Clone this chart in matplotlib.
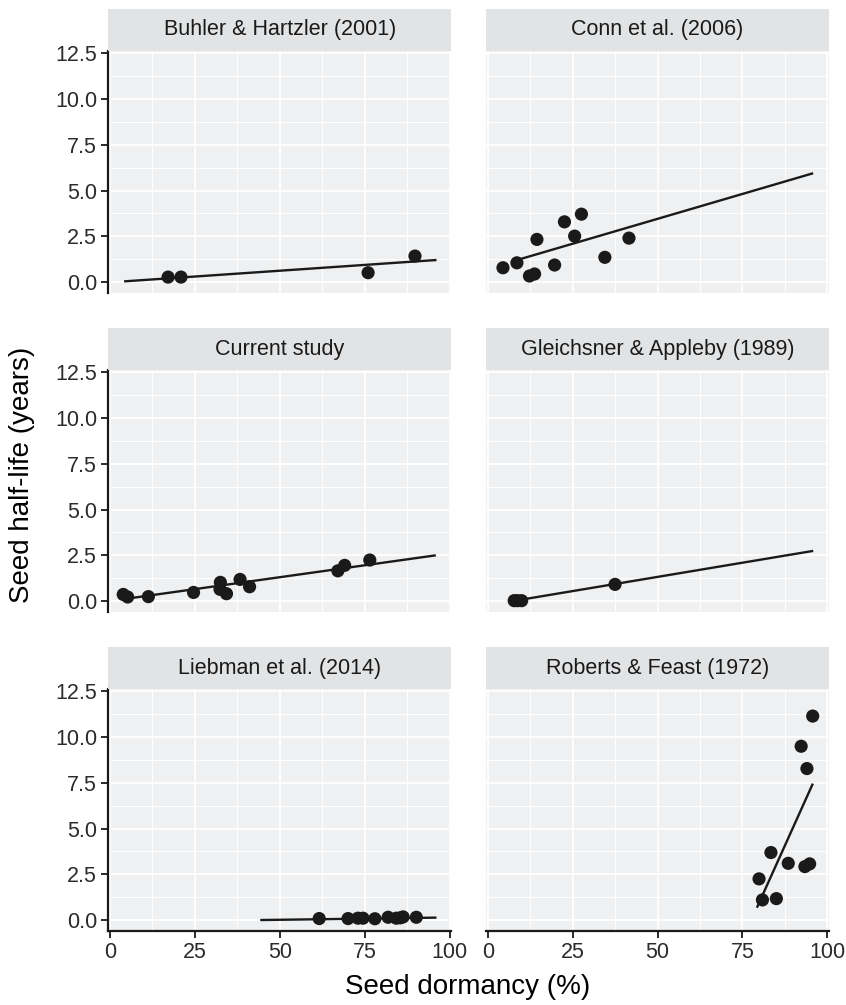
import numpy as np
import matplotlib.pyplot as plt
from matplotlib.ticker import MultipleLocator

plt.rcParams["font.family"] = ["Liberation Sans", "DejaVu Sans"]

studies = [
    "Buhler & Hartzler (2001)",
    "Conn et al. (2006)",
    "Current study",
    "Gleichsner & Appleby (1989)",
    "Liebman et al. (2014)",
    "Roberts & Feast (1972)",
]

# seed dormancy (%) and half-life (years) per study
dormancy = {
    "Buhler & Hartzler (2001)": [17.1, 20.9, 76.0, 89.8],
    "Conn et al. (2006)": [4.5, 8.6, 12.3, 13.8, 14.5, 19.7, 22.6, 25.6, 27.6, 34.5, 41.6],
    "Current study": [3.9, 5.2, 11.3, 24.6, 32.5, 32.4, 34.3, 38.3, 41.1, 67.1, 69.1, 76.5],
    "Gleichsner & Appleby (1989)": [7.8, 8.8, 10.0, 37.5],
    "Liebman et al. (2014)": [61.6, 70.1, 73.0, 74.5, 78.0, 81.9, 84.3, 85.5, 86.3, 90.2],
    "Roberts & Feast (1972)": [95.7, 92.3, 94.0, 83.4, 88.5, 93.4, 94.8, 79.9, 80.9, 85.0],
}
half_life = {
    "Buhler & Hartzler (2001)": [0.27, 0.27, 0.51, 1.42],
    "Conn et al. (2006)": [0.78, 1.05, 0.33, 0.44, 2.33, 0.93, 3.29, 2.51, 3.71, 1.35, 2.40],
    "Current study": [0.36, 0.22, 0.24, 0.47, 1.02, 0.64, 0.40, 1.18, 0.78, 1.65, 1.95, 2.24],
    "Gleichsner & Appleby (1989)": [0.02, 0.02, 0.02, 0.91],
    "Liebman et al. (2014)": [0.08, 0.08, 0.10, 0.10, 0.07, 0.15, 0.10, 0.12, 0.17, 0.15],
    "Roberts & Feast (1972)": [11.15, 9.5, 8.28, 3.69, 3.10, 2.92, 3.07, 2.25, 1.10, 1.17],
}

# fitted regression lines (start / end)
fit_x = {
    "Buhler & Hartzler (2001)": [4.5, 95.8],
    "Conn et al. (2006)": [8.6, 95.5],
    "Current study": [5.0, 95.6],
    "Gleichsner & Appleby (1989)": [9.1, 95.5],
    "Liebman et al. (2014)": [44.6, 95.8],
    "Roberts & Feast (1972)": [79.4, 95.6],
}
fit_y = {
    "Buhler & Hartzler (2001)": [0.04, 1.2],
    "Conn et al. (2006)": [1.2, 5.93],
    "Current study": [0.13, 2.49],
    "Gleichsner & Appleby (1989)": [0.05, 2.73],
    "Liebman et al. (2014)": [0.0, 0.13],
    "Roberts & Feast (1972)": [0.73, 7.4],
}

W, H = 846, 1005
fig = plt.figure(figsize=(W / 100, H / 100), dpi=100)

col_left = [108.3, 486.0]
panel_w = 343.0
row_top = [51, 370, 689]
panel_h = 242
strip_h = 42

panel_bg = "#EFF0F2"
strip_bg = "#E2E3E5"
ink = "#1A1A1A"

for i, study in enumerate(studies):
    r, c = divmod(i, 2)
    x0 = col_left[c]
    y_top = row_top[r]
    ax = fig.add_axes([x0 / W, 1 - (y_top + panel_h) / H, panel_w / W, panel_h / H])
    sax = fig.add_axes([x0 / W, 1 - y_top / H, panel_w / W, strip_h / H])

    ax.set_facecolor(panel_bg)
    ax.set_xlim(-0.5, 100.5)
    ax.set_ylim(-0.6, 12.63)
    ax.xaxis.set_major_locator(MultipleLocator(25))
    ax.xaxis.set_minor_locator(MultipleLocator(12.5))
    ax.yaxis.set_major_locator(MultipleLocator(2.5))
    ax.yaxis.set_minor_locator(MultipleLocator(1.25))
    ax.grid(which="major", color="white", linewidth=1.3)
    ax.grid(which="minor", color="white", linewidth=0.7)
    ax.set_axisbelow(True)
    for s in ax.spines.values():
        s.set_visible(False)

    ax.plot(fit_x[study], fit_y[study], color=ink, linewidth=1.7, zorder=3)
    ax.scatter(dormancy[study], half_life[study], s=90, color=ink,
               edgecolors="none", zorder=4)

    ax.tick_params(which="minor", length=0)
    ax.tick_params(which="major", length=5, width=1.3, color=ink,
                   labelsize=15.5, labelcolor="#2B2B2B", pad=3)
    if c == 0:
        ax.spines["left"].set_visible(True)
        ax.spines["left"].set_linewidth(1.6)
        ax.spines["left"].set_color(ink)
        ax.set_yticks([0, 2.5, 5, 7.5, 10, 12.5])
        ax.set_yticklabels(["0.0", "2.5", "5.0", "7.5", "10.0", "12.5"])
    else:
        ax.tick_params(axis="y", length=0, labelleft=False)
    if r == 2:
        ax.spines["bottom"].set_visible(True)
        ax.spines["bottom"].set_linewidth(1.6)
        ax.spines["bottom"].set_color(ink)
        ax.set_xticks([0, 25, 50, 75, 100])
    else:
        ax.tick_params(axis="x", length=0, labelbottom=False)

    sax.set_facecolor(strip_bg)
    sax.set_xticks([])
    sax.set_yticks([])
    for s in sax.spines.values():
        s.set_visible(False)
    sax.text(0.5, 0.5, study, ha="center", va="center", fontsize=15.5,
             color="#1A1A1A", transform=sax.transAxes)

fig.text(468 / W, 1 - 987 / H, "Seed dormancy (%)", ha="center", va="center",
         fontsize=20, color="black")
fig.text(22 / W, 1 - 475 / H, "Seed half-life (years)", ha="center", va="center",
         rotation=90, fontsize=20, color="black")

fig.savefig("out.png", dpi=100)
